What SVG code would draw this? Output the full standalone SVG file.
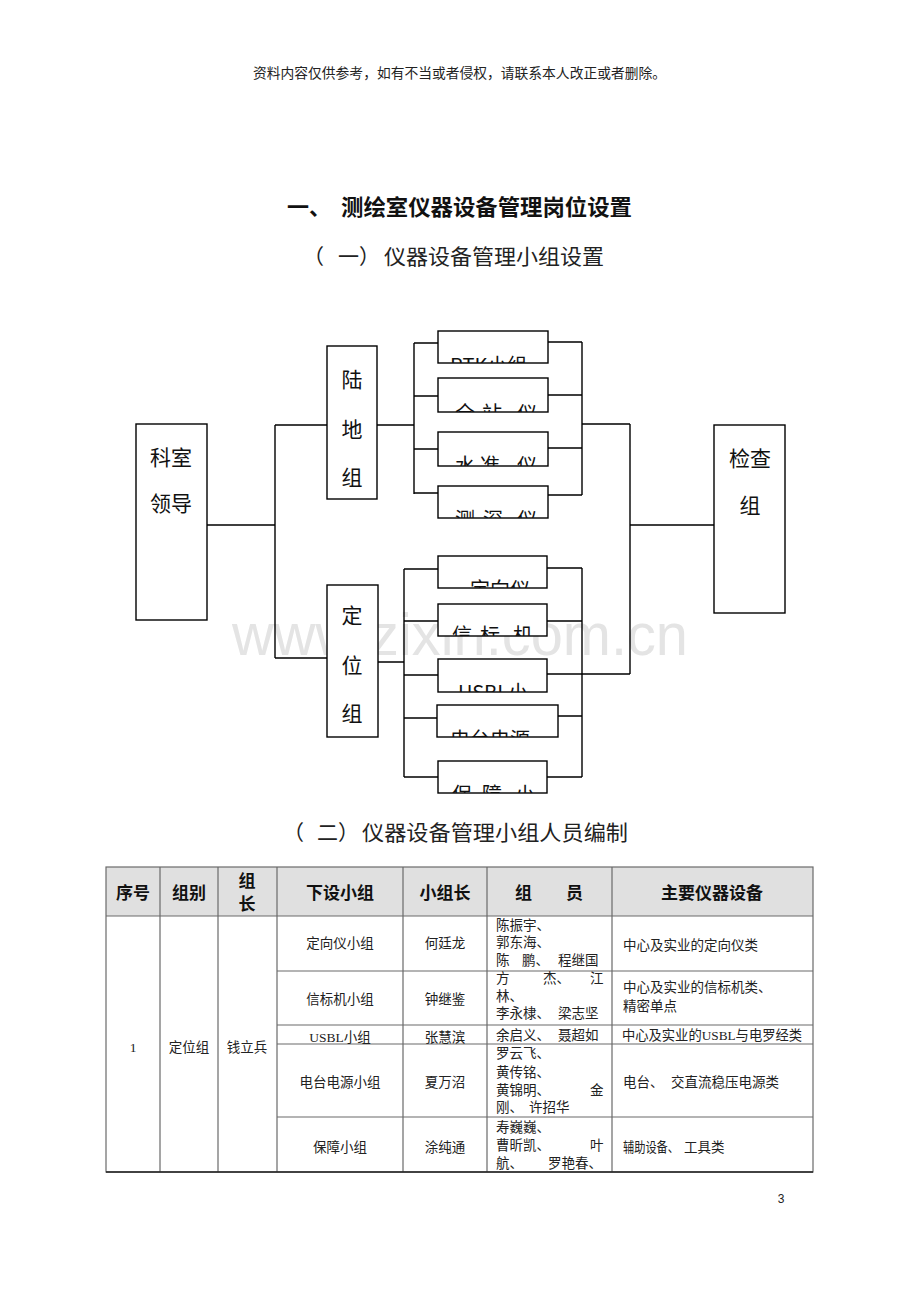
<svg xmlns="http://www.w3.org/2000/svg" width="920" height="1302" viewBox="0 0 920 1302">
<style>
.bg{fill:#ffffff}
.box{fill:#ffffff;stroke:#000;stroke-width:1.4}
.ln{fill:none;stroke:#000;stroke-width:1.4}
.cn{font-family:"Noto Sans CJK SC","Noto Sans",sans-serif;fill:#111}
.big{font-size:21px}
.sub{font-size:20px}
.note{font-family:"Liberation Serif","Noto Sans CJK SC",serif;font-size:13.3px;fill:#222}
.title{font-family:"Noto Sans CJK SC",sans-serif;font-size:22px;font-weight:bold;fill:#111}
.h2{font-family:"Noto Sans CJK SC",sans-serif;font-size:21px;fill:#222}
.th{font-family:"Noto Sans CJK SC",sans-serif;font-size:17px;font-weight:bold;fill:#111;text-anchor:middle}
.td{font-family:"Liberation Serif","Noto Sans CJK SC",serif;font-size:13.5px;fill:#222}
.tdc{font-family:"Liberation Serif","Noto Sans CJK SC",serif;font-size:13.5px;fill:#222;text-anchor:middle}
.grid{fill:none;stroke:#6a6a6a;stroke-width:1.2}
.wm{font-family:"Liberation Sans",Arial,sans-serif;font-size:60px;fill:#e4e4e4}
</style>
<defs>
<clipPath id="c1"><rect x="438" y="331" width="110" height="32"/></clipPath>
<clipPath id="c2"><rect x="438" y="378" width="110" height="34"/></clipPath>
<clipPath id="c3"><rect x="438" y="432" width="110" height="34"/></clipPath>
<clipPath id="c4"><rect x="438" y="486" width="110" height="32"/></clipPath>
<clipPath id="c5"><rect x="438" y="556" width="109" height="32"/></clipPath>
<clipPath id="c6"><rect x="438" y="604" width="109" height="32"/></clipPath>
<clipPath id="c7"><rect x="438" y="659" width="109" height="33"/></clipPath>
<clipPath id="c8"><rect x="437" y="705" width="121" height="32"/></clipPath>
<clipPath id="c9"><rect x="438" y="761" width="109" height="32"/></clipPath>
</defs>
<rect class="bg" x="0" y="0" width="920" height="1302"/>

<text class="wm" x="232" y="655" textLength="456" lengthAdjust="spacingAndGlyphs">www.zixin.com.cn</text>

<text class="note" x="253" y="78" textLength="413" lengthAdjust="spacingAndGlyphs">资料内容仅供参考，如有不当或者侵权，请联系本人改正或者删除。</text>

<text class="title" x="287" y="215">一、</text>
<text class="title" x="341" y="215" textLength="291" lengthAdjust="spacingAndGlyphs">测绘室仪器设备管理岗位设置</text>

<text class="h2" x="303" y="264">（</text>
<text class="h2" x="338" y="264">一）</text>
<text class="h2" x="384" y="264" textLength="220" lengthAdjust="spacingAndGlyphs">仪器设备管理小组设置</text>

<g id="connectors">
<path class="ln" d="M207,525 H275 M275,425 V658 M275,425 H327 M275,658 H327"/>
<path class="ln" d="M377,425 H414 M414,343 V494 M414,343 H438 M414,396 H438 M414,449 H438 M414,493 H438"/>
<path class="ln" d="M548,342 H582 M548,395 H582 M548,448 H582 M548,495 H582 M582,342 V495 M582,424 H630 M630,424 V674 M630,525 H714"/>
<path class="ln" d="M378,662 H404 M404,569 V777 M404,569 H438 M404,621 H438 M404,675 H438 M404,718 H437 M404,777 H438"/>
<path class="ln" d="M547,568 H582 M547,621 H582 M547,674 H630 M558,716 H582 M547,777 H582 M582,568 V777"/>
</g>

<g id="node-leader">
<rect class="box" x="136" y="424" width="71" height="196"/>
<text class="cn big" x="171" y="465" text-anchor="middle">科室</text>
<text class="cn big" x="171" y="511" text-anchor="middle">领导</text>
</g>
<g id="node-land">
<rect class="box" x="327" y="346" width="50" height="153"/>
<text class="cn big" x="352" y="387" text-anchor="middle">陆</text>
<text class="cn big" x="352" y="437" text-anchor="middle">地</text>
<text class="cn big" x="352" y="485" text-anchor="middle">组</text>
</g>
<g id="node-pos">
<rect class="box" x="327" y="585" width="51" height="152"/>
<text class="cn big" x="352" y="623" text-anchor="middle">定</text>
<text class="cn big" x="352" y="673" text-anchor="middle">位</text>
<text class="cn big" x="352" y="721" text-anchor="middle">组</text>
</g>
<g id="node-check">
<rect class="box" x="714" y="425" width="71" height="188"/>
<text class="cn big" x="750" y="466" text-anchor="middle">检查</text>
<text class="cn big" x="750" y="513" text-anchor="middle">组</text>
</g>

<g id="node-rtk">
<rect class="box" x="438" y="331" width="110" height="32"/>
<text class="cn sub" clip-path="url(#c1)" x="450" y="373">RTK小组</text>
</g>
<g id="node-total">
<rect class="box" x="438" y="378" width="110" height="34"/>
<text class="cn sub" clip-path="url(#c2)" y="421"><tspan x="455">全</tspan><tspan x="482">站</tspan><tspan x="517">仪</tspan></text>
</g>
<g id="node-level">
<rect class="box" x="438" y="432" width="110" height="34"/>
<text class="cn sub" clip-path="url(#c3)" y="473"><tspan x="455">水</tspan><tspan x="480">准</tspan><tspan x="517">仪</tspan></text>
</g>
<g id="node-sounder">
<rect class="box" x="438" y="486" width="110" height="32"/>
<text class="cn sub" clip-path="url(#c4)" y="527"><tspan x="455">测</tspan><tspan x="483">深</tspan><tspan x="517">仪</tspan></text>
</g>
<g id="node-orient">
<rect class="box" x="438" y="556" width="109" height="32"/>
<text class="cn sub" clip-path="url(#c5)" x="470" y="597">定向仪</text>
</g>
<g id="node-beacon">
<rect class="box" x="438" y="604" width="109" height="32"/>
<text class="cn sub" clip-path="url(#c6)" y="643"><tspan x="452">信</tspan><tspan x="480">标</tspan><tspan x="513">机</tspan></text>
</g>
<g id="node-usbl">
<rect class="box" x="438" y="659" width="109" height="33"/>
<text class="cn sub" clip-path="url(#c7)" x="458" y="700">USBL小</text>
</g>
<g id="node-radio">
<rect class="box" x="437" y="705" width="121" height="32"/>
<text class="cn sub" clip-path="url(#c8)" x="450" y="747">电台电源</text>
</g>
<g id="node-support">
<rect class="box" x="438" y="761" width="109" height="32"/>
<text class="cn sub" clip-path="url(#c9)" y="802"><tspan x="452">保</tspan><tspan x="482">障</tspan><tspan x="515">小</tspan></text>
</g>

<text class="h2" x="283" y="840">（</text>
<text class="h2" x="317" y="840">二）</text>
<text class="h2" x="362" y="840" textLength="266" lengthAdjust="spacingAndGlyphs">仪器设备管理小组人员编制</text>

<g id="table">
<rect x="106" y="867" width="707" height="49" fill="#e0e0e0"/>
<rect class="grid" x="106" y="867" width="707" height="305"/>
<path class="grid" d="M106,916 H813 M277,971 H813 M277,1025 H813 M277,1044 H813 M277,1117 H813"/>
<path class="grid" d="M160,867 V1172 M218,867 V1172 M277,867 V1172 M403,867 V1172 M487,867 V1172 M612,867 V1172"/>
<path d="M106,1172 H813" stroke="#222" stroke-width="1.4"/>

<text class="th" x="133" y="899">序号</text>
<text class="th" x="189" y="899">组别</text>
<text class="th" x="247" y="887">组</text>
<text class="th" x="247" y="910">长</text>
<text class="th" x="340" y="899">下设小组</text>
<text class="th" x="445" y="899">小组长</text>
<text class="th" x="549" y="899">组　　员</text>
<text class="th" x="712" y="899">主要仪器设备</text>

<text class="tdc" x="133" y="1052">1</text>
<text class="tdc" x="189" y="1052">定位组</text>
<text class="tdc" x="247" y="1052">钱立兵</text>

<text class="tdc" x="340" y="948">定向仪小组</text>
<text class="tdc" x="445" y="948">何廷龙</text>
<text class="tdc" x="340" y="1004">信标机小组</text>
<text class="tdc" x="445" y="1004">钟继鉴</text>
<text class="tdc" x="340" y="1042">USBL小组</text>
<text class="tdc" x="445" y="1042">张慧滨</text>
<text class="tdc" x="340" y="1087">电台电源小组</text>
<text class="tdc" x="445" y="1087">夏万沼</text>
<text class="tdc" x="340" y="1152">保障小组</text>
<text class="tdc" x="445" y="1152">涂纯通</text>

<text class="td" x="496" y="930">陈振宇、</text>
<text class="td" x="496" y="947">郭东海、</text>
<text class="td" y="965"><tspan x="496">陈</tspan><tspan x="522">鹏、</tspan><tspan x="558">程继国</tspan></text>
<text class="td" y="983"><tspan x="496">方</tspan><tspan x="543">杰、</tspan><tspan x="590">江</tspan></text>
<text class="td" x="496" y="1001">林、</text>
<text class="td" y="1018"><tspan x="496">李永棣、</tspan><tspan x="558">梁志坚</tspan></text>
<text class="td" y="1040"><tspan x="496">余启义、</tspan><tspan x="558">聂超如</tspan></text>
<text class="td" x="496" y="1058">罗云飞、</text>
<text class="td" x="496" y="1077">黄传铭、</text>
<text class="td" y="1095"><tspan x="496">黄锦明、</tspan><tspan x="590">金</tspan></text>
<text class="td" y="1112"><tspan x="496">刚、</tspan><tspan x="529">许招华</tspan></text>
<text class="td" x="496" y="1132">寿巍巍、</text>
<text class="td" y="1150"><tspan x="496">曹昕凯、</tspan><tspan x="590">叶</tspan></text>
<text class="td" y="1168"><tspan x="496">航、</tspan><tspan x="548">罗艳春、</tspan></text>

<text class="td" x="623" y="950">中心及实业的定向仪类</text>
<text class="td" x="623" y="992">中心及实业的信标机类、</text>
<text class="td" x="623" y="1011">精密单点</text>
<text class="td" x="622" y="1040" textLength="180" lengthAdjust="spacingAndGlyphs">中心及实业的USBL与电罗经类</text>
<text class="td" y="1087"><tspan x="623">电台、</tspan><tspan x="671">交直流稳压电源类</tspan></text>
<text class="td" x="623" y="1152" textLength="56" lengthAdjust="spacingAndGlyphs">辅助设备、</text>
<text class="td" x="684" y="1152">工具类</text>
</g>

<text x="781" y="1203" font-family="Liberation Sans,Arial,sans-serif" font-size="12" fill="#222" text-anchor="middle">3</text>
</svg>
